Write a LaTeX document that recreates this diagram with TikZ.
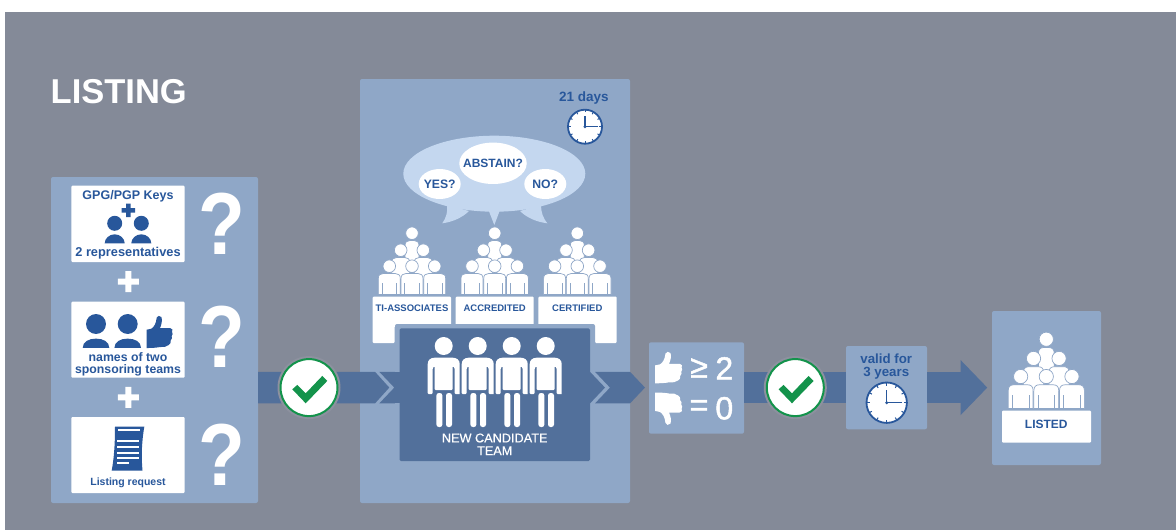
\documentclass[tikz,border=0pt]{standalone}
\usepackage{fontspec}
\usepackage{graphicx}
\setmainfont{Liberation Sans}
\newfontfamily\semib[FakeBold=0.5]{Liberation Sans}
\newfontfamily\semibb[FakeBold=1.5]{Liberation Sans}
\usetikzlibrary{arrows.meta,calc,shapes.geometric}
\definecolor{bgc}{HTML}{848A98}
\definecolor{panelc}{HTML}{8FA7C7}
\definecolor{flowc}{HTML}{52709B}
\definecolor{inkc}{HTML}{28579B}
\definecolor{bubblec}{HTML}{C4D7EF}
\definecolor{greenc}{HTML}{13934B}
\definecolor{haloc}{HTML}{8D919F}
\newcommand{\fs}[1]{\fontsize{#1}{#1}\selectfont}
\tikzset{
  panelbox/.style={fill=panelc,rounded corners=2pt,inner sep=0,outer sep=0,line width=0},
  whitebox/.style={fill=white,rounded corners=1pt,inner sep=0,outer sep=0,line width=0},
  teambox/.style={fill=flowc,rounded corners=1.5pt,inner sep=0,outer sep=0,line width=0},
  lbl/.style={text=inkc,inner sep=0,outer sep=0,align=center},
  qmark/.style={text=white,font=\bfseries\fs{88},inner sep=0,outer sep=0},
  bigsign/.style={text=white,font=\semibb\fs{32},inner sep=0},
  flow/.style={fill=flowc,draw=none},
  flowline/.style={draw=flowc,line width=31.6pt},
  checkring/.style={circle,fill=white,draw=greenc,line width=2pt,minimum size=57pt,inner sep=0,outer sep=0},
}
\newcommand{\pbox}[6]{% style name x1 y1 x2 y2
  \pgfmathsetmacro{\cxx}{(#3+#5)/2}\pgfmathsetmacro{\cyy}{(#4+#6)/2}
  \pgfmathsetmacro{\wdd}{#5-#3}\pgfmathsetmacro{\htt}{#6-#4}
  \node[#1,minimum width=\wdd pt,minimum height=\htt pt] (#2) at (\cxx,\cyy) {};}
\newcommand{\repfig}[4]{\begin{scope}[shift={(#1,#2)},scale=#3]
  \fill[inkc] (0,0) circle[radius=7.5];
  \fill[inkc] (-10,#4) .. controls (-10,{#4-4.7}) and (-5.5,11) .. (0,11) .. controls (5.5,11) and (10,{#4-4.7}) .. (10,#4) -- cycle;
\end{scope}}
\newcommand{\thumbshape}{(0,42) -- (14,39) .. controls (22,34) and (28,24) .. (30,6) .. controls (31,0) and (40,-2) .. (44,4) .. controls (48,12) and (44,28) .. (40,37) -- (70,37) .. controls (78,38) and (79,44) .. (76,48) .. controls (79,52) and (78,58) .. (75,61) .. controls (77,65) and (76,71) .. (72,74) .. controls (73,80) and (71,86) .. (66,88) .. controls (60,94) and (50,95) .. (40,94) .. controls (30,96) and (15,97) .. (0,97) -- cycle}
\newcommand{\clockface}[3]{\begin{scope}[shift={(#1,#2)}]
  \fill[white] (0,0) circle[radius=#3];
  \draw[inkc,line width=1.8pt] (0,0) circle[radius=#3];
  \foreach \a in {0,30,...,330}{\draw[inkc,line width=1pt] (\a:#3) -- (\a:{#3*.85});}
  \draw[inkc,line width=1.5pt] (0,{-#3*.62}) -- (0,0) -- ({#3*.78},0);
  \fill[inkc] (0,0) circle[radius=1.6];
\end{scope}}
\newcommand{\cbody}[4]{% x top bottom halfwidth
  \filldraw[fill=white,draw=panelc,line width=.7pt] ({#1-#4},#3) -- ({#1-#4},{#2+5}) .. controls ({#1-#4},{#2+1.5}) and ({#1-#4+2},#2) .. ({#1-#4+5},#2) -- ({#1+#4-5},#2) .. controls ({#1+#4-2},#2) and ({#1+#4},{#2+1.5}) .. ({#1+#4},{#2+5}) -- ({#1+#4},#3) -- cycle;}
\newcommand{\chead}[2]{\filldraw[fill=white,draw=panelc,line width=.7pt] (#1,#2) circle[radius=6.3];}
\newcommand{\crowd}[3]{\begin{scope}[shift={(#1,#2)},scale=#3]
  \cbody{0}{-54}{-30}{7}
  \chead{0}{-61.3}
  \cbody{-11.3}{-37}{-15}{9}\cbody{11.3}{-37}{-15}{9}
  \chead{-11.3}{-44.3}\chead{11.3}{-44.3}
  \foreach \p in {-22.7,0,22.7}{
    \cbody{\p}{-21}{0}{11}
    \chead{\p}{-28.3}
    \draw[panelc,line width=.8pt] ({\p-7.3},0) -- ({\p-7.3},-12) ({\p+7.3},0) -- ({\p+7.3},-12);
  }
\end{scope}}
\newcommand{\memberfig}[2]{\begin{scope}[shift={(#1,#2)}]
  \fill[white] (0,0) circle[radius=9];
  \fill[white] (-16,48) -- (-16,18) .. controls (-16,14) and (-13,11.7) .. (-9,11.7) -- (9,11.7) .. controls (13,11.7) and (16,14) .. (16,18) -- (16,48) [rounded corners=1pt] -- (11,48) -- (11,22) -- (9,20) -- (9,44) -- (-9,44) -- (-9,20) -- (-11,22) -- (-11,48) -- cycle;
  \fill[white,rounded corners=2.5pt] (-7.3,47) rectangle (-1.3,81);
  \fill[white,rounded corners=2.5pt] (2.3,47) rectangle (8.3,81);
\end{scope}}
\newcommand{\tick}[1]{\fill[greenc,shift={(#1)}] (-16.7,1.7) -- (-3.3,15.7) -- (18.3,-6.7) -- (13.3,-11.7) -- (-3.3,5.7) -- (-11.7,-2.7) -- cycle;}
\begin{document}
\begin{tikzpicture}[x=1pt,y=-1pt]
\useasboundingbox (0,0) rectangle (1176,530);
\fill[white] (0,0) rectangle (1176,530);
\fill[bgc] (5,12) rectangle (1176,530);
\node[text=white,font=\bfseries\fs{34.5},inner sep=0,anchor=west] (title) at (50.5,91.5) {LISTING};

% panels
\pbox{panelbox}{reqpanel}{51}{177}{258}{503}
\pbox{panelbox}{votepanel}{360}{79}{630}{503}
\pbox{panelbox}{listedpanel}{992}{311}{1101}{465}
\coordinate (flowy) at (0,387.6);

% connectors
\fill[flow] ($(reqpanel.east |- flowy)+(0,-15.8)$) -- ($(reqpanel.east |- flowy)+(117,-15.8)$) -- ($(reqpanel.east |- flowy)+(131.3,0)$) -- ($(reqpanel.east |- flowy)+(117,15.8)$) -- ($(reqpanel.east |- flowy)+(0,15.8)$) -- cycle;
\fill[flow] (379.3,371.8) -- (400,371.8) -- (400,403.4) -- (379.3,403.4) -- (394.3,387.6) -- cycle;
\node[circle,fill=haloc,minimum size=63pt,inner sep=0] (halo1) at (309,387.6) {};
\node[checkring] (chk1) at (309,387.6) {};
\tick{chk1}

% voting bubble
\fill[bubblec] (494.3,173.7) ellipse[x radius=91,y radius=38];
\fill[bubblec] (447,205) .. controls (448,212) and (446,218) .. (442.3,223.3) .. controls (452,222) and (462,218) .. (469,211) -- cycle;
\fill[bubblec] (488.5,210) -- (494.3,225) -- (500,210) -- cycle;
\fill[bubblec] (541,205) .. controls (541,212) and (543,218) .. (547.3,223.3) .. controls (537,222) and (527,218) .. (520,211) -- cycle;
\node[ellipse,fill=white,minimum width=42pt,minimum height=30pt,inner sep=0] (yes) at (439.7,184) {};
\node[lbl,font=\bfseries\fs{12.2}] at (yes.center) {YES?};
\node[ellipse,fill=white,minimum width=67.5pt,minimum height=41.4pt,inner sep=0] (abstain) at (493,163.3) {};
\node[lbl,font=\bfseries\fs{12}] at (abstain.center) {ABSTAIN?};
\node[ellipse,fill=white,minimum width=42pt,minimum height=30pt,inner sep=0] (no) at (545.3,184) {};
\node[lbl,font=\bfseries\fs{12.2}] at (no.center) {NO?};

\node[lbl,font=\bfseries\fs{13.5}] (days) at (584,98) {21 days};
\clockface{585}{126.7}{17}

% crowds
\crowd{412}{294.5}{1}
\crowd{494.7}{294.5}{1}
\crowd{577.3}{294.5}{1}

% white tables
\fill[white,rounded corners=1pt] (372.7,296.7) -- (451,296.7) -- (451,326) -- (394.5,326) -- (394.5,343) -- (372.7,343) -- cycle;
\fill[white,rounded corners=1pt] (616.7,296.7) -- (538.3,296.7) -- (538.3,326) -- (595,326) -- (595,343) -- (616.7,343) -- cycle;
\pbox{whitebox}{accbox}{455.7}{296.7}{533.7}{326}
\node[lbl,font=\bfseries\fs{9.5}] (tia) at (412,308) {TI-ASSOCIATES};
\node[lbl,font=\bfseries\fs{9.5}] (acc) at (494.7,308) {ACCREDITED};
\node[lbl,font=\bfseries\fs{9.5}] (cer) at (577.3,308) {CERTIFIED};

% candidate team
\pbox{panelbox}{teamrim}{395}{324}{595}{465}
\pbox{teambox}{team}{399.5}{328.3}{590}{461}
\fill[flow] (team.west |- flowy) ++(-5,-15.8) -- ++(5,0) -- ++(0,31.6) -- ++(-5,0) -- cycle;
\foreach \x in {443.7,477.7,511.7,545.7}{\memberfig{\x}{346}}
\node[text=white,font=\semib\fs{12.7},inner sep=0,align=center] (teamlbl) at (494.7,444.3) {NEW CANDIDATE\\TEAM};

% team to quorum
\fill[flow,shift={(team.east |- flowy)}] (0,-15.8) -- (15,0) -- (0,15.8) -- cycle;
\fill[flow,shift={(team.east |- flowy)}] (5,-15.8) -- (40,-15.8) -- (55,0) -- (40,15.8) -- (5,15.8) -- (20,0) -- cycle;

% quorum panel
\pbox{panelbox}{quorum}{649}{342.3}{744}{433.7}
\begin{scope}[shift={(655,351.7)},xscale=.35,yscale=.326]\fill[white] \thumbshape;\end{scope}
\begin{scope}[shift={(655,425)},xscale=.35,yscale=-.335]\fill[white] \thumbshape;\end{scope}
\node[bigsign] (ge) at (699,368) {≥};
\node[bigsign] (two) at (724.3,368.3) {2};
\node[bigsign] (eq) at (699,408) {=};
\node[bigsign] (zero) at (724.3,408.3) {0};

% quorum to valid
\draw[flowline] (quorum.east |- flowy) -- (846,387.6);
\node[circle,fill=haloc,minimum size=63pt,inner sep=0] (halo2) at (795.3,387.6) {};
\node[checkring] (chk2) at (795.3,387.6) {};
\tick{chk2}

\pbox{panelbox}{valid}{846}{346}{927}{429.3}
\node[lbl,font=\bfseries\fs{13.3}] (validlbl) at (886.3,366.3) {valid for\\3 years};
\clockface{886.7}{402.7}{20.2}

% valid to listed
\draw[flowline,-{Triangle[length=26.6pt,width=53.3pt]},shorten >=4.7pt] (valid.east |- flowy) -- (listedpanel.west |- flowy);

% listed
\crowd{1046.3}{408.5}{1.13}
\pbox{whitebox}{listedbox}{1002}{410.7}{1091}{442.7}
\node[lbl,font=\bfseries\fs{12}] (listedlbl) at (1046.3,424) {LISTED};

% request panel content
\pbox{whitebox}{gpgbox}{71.3}{185.7}{184.7}{262}
\pbox{whitebox}{sponsorbox}{71.3}{301.7}{184.7}{377.7}
\pbox{whitebox}{reqbox}{71.3}{417}{184.7}{493}
\node[lbl,font=\bfseries\fs{12.5}] (gpg) at (128,196.5) {GPG/PGP Keys};
\fill[inkc] (126,203.5) rectangle (130.6,217) (121.5,208) rectangle (135,212.5);
\repfig{114.7}{223.3}{1}{20}
\repfig{141.3}{223.3}{1}{20}
\node[lbl,font=\bfseries\fs{12.8}] (reps) at (128,253) {2 representatives};
\repfig{96}{324}{1.33}{18}
\repfig{127.7}{324}{1.33}{18}
\begin{scope}[shift={(146.7,315.7)},scale=.3333]\fill[inkc] \thumbshape;\end{scope}
\node[lbl,font=\bfseries\fs{12.3}] (names) at (128,364) {names of two\\sponsoring teams};
\fill[inkc] (115,426.7) -- (144.3,426.7) .. controls (142,440) and (141,455) .. (142.5,470.7) -- (111.7,470.7) .. controls (114,458) and (115,445) .. (115,426.7) -- cycle;
\foreach \yy/\xa/\xb in {430/118/140,440.7/117/139,446.7/117/139,452.7/117/139,458.3/117/139,463.3/117/129}{\draw[white,line width=1.8pt] (\xa,\yy) -- (\xb,\yy);}
\node[lbl,font=\bfseries\fs{10.5}] (listreq) at (128,483) {Listing request};
\foreach \yy in {281.7,397.3}{\fill[white] (125.3,{\yy-10.5}) rectangle (131.3,{\yy+10.5}) (117.8,{\yy-3}) rectangle (138.8,{\yy+3});}
\node[qmark] (q1) at (221.5,224) {\scalebox{.87}[1]{?}};
\node[qmark] (q2) at (221.5,337) {\scalebox{.87}[1]{?}};
\node[qmark] (q3) at (221.5,455) {\scalebox{.87}[1]{?}};
\end{tikzpicture}
\end{document}
